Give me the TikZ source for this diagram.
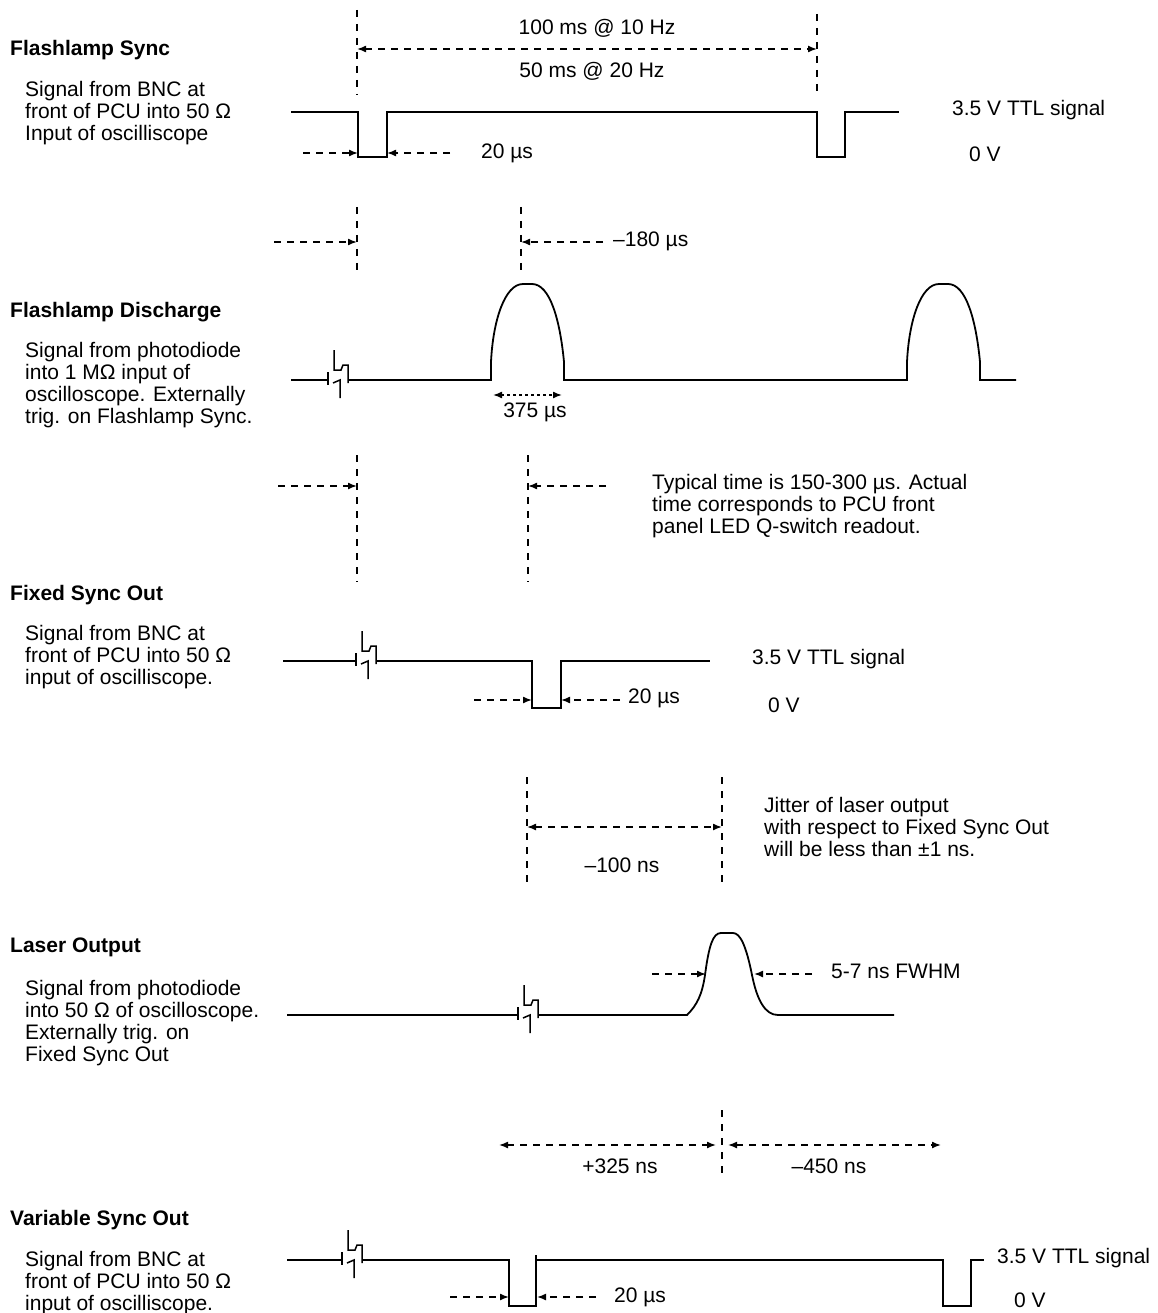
\documentclass[tikz,border=0pt]{standalone}
\usepackage{fontspec}
\setmainfont{Liberation Sans}
\usetikzlibrary{arrows.meta}
\begin{document}
\begin{tikzpicture}[x=1pt,y=-1pt,
  sig/.style={line width=1.8pt},
  guide/.style={line width=1.5pt,dash pattern=on 7pt off 7pt},
  dim/.style={line width=1.5pt,dash pattern=on 7pt off 6pt,-{Latex[length=9pt,width=7pt]}},
  dimboth/.style={dim,{Latex[length=9pt,width=7pt]}-{Latex[length=9pt,width=7pt]}},
  txt/.style={font=\fontsize{21}{22}\selectfont,inner sep=0pt},
  lbl/.style={txt,text height=15pt,text depth=4.5pt},
  ttl/.style={font=\bfseries\fontsize{21}{22}\selectfont,inner sep=0pt,anchor=west,text height=15pt,text depth=4.5pt},
  desc/.style={txt,align=left,anchor=north west},
  brk/.pic={
    \draw[line width=1.5pt] (-10,-8) -- (-10,5);
    \draw[line width=1.5pt] (-4,-30) -- (-4,-10) -- (3,-10) -- (5,-15) -- (10,-15) -- (10,3);
    \draw[line width=1.5pt] (-5,3) -- (2,0) -- (2,18);
  }
]
\useasboundingbox[fill=white] (0,0) rectangle (1157,1313);

% ---------- Flashlamp Sync ----------
\node[ttl] (t1) at (10,50) {Flashlamp Sync};
\node[desc] (d1) at (25,81) {\strut Signal from BNC at\\\strut front of PCU into 50 Ω\\\strut Input of oscilliscope};
\draw[sig] (291,112) -- (358,112) -- (358,157) -- (387,157) -- (387,112) -- (817,112) -- (817,157) -- (845,157) -- (845,112) -- (899,112);
\coordinate (g1a) at (357,10); \coordinate (g1b) at (357,95);
\coordinate (g2a) at (817,14); \coordinate (g2b) at (817,95);
\draw[guide] (g1a) -- (g1b);
\draw[guide] (g2a) -- (g2b);
\draw[dimboth] (357,49) -- (817,49);
\node[lbl] (f10) at (597,29) {100 ms @ 10 Hz};
\node[lbl] (f20) at (592,72) {50 ms @ 20 Hz};
\draw[dim] (303,153) -- (358,153);
\draw[dim] (450,153) -- (387,153);
\node[lbl,anchor=west] (w1) at (481,153) {20 µs};
\node[lbl,anchor=west] (v1h) at (952,110) {3.5 V TTL signal};
\node[lbl,anchor=west] (v1l) at (969,156) {0 V};

% ---------- delay 1 ----------
\draw[guide] (357,207) -- (357,275);
\draw[guide] (521,207) -- (521,275);
\draw[dim] (274,242) -- (357,242);
\draw[dim] (603,242) -- (521,242);
\node[lbl,anchor=west] (d180) at (613,241) {–180 µs};

% ---------- Flashlamp Discharge ----------
\node[ttl] (t2) at (10,312) {Flashlamp Discharge};
\node[desc] (d2) at (25,342) {\strut Signal from photodiode\\\strut into 1 MΩ input of\\\strut oscilloscope. Externally\\\strut trig. on Flashlamp Sync.};
\draw[sig] (291,380) -- (328,380);
\pic (b2) at (338,380) {brk};
\draw[sig] (348,380) -- (491,380) -- (491,362) .. controls (493,320) and (505,284) .. (523,284) -- (532,284) .. controls (550,284) and (560,320) .. (564,362) -- (564,380) -- (907,380) -- (907,362) .. controls (909,320) and (921,284) .. (939,284) -- (948,284) .. controls (966,284) and (976,320) .. (980,362) -- (980,380) -- (1016,380);
\draw[dimboth,dash pattern=on 3pt off 3pt] (493,395) -- (562,395);
\node[lbl] (w375) at (535,412) {375 µs};

% ---------- delay 2 ----------
\draw[guide] (357,455) -- (357,582);
\draw[guide] (528,455) -- (528,582);
\draw[dim] (278,486) -- (357,486);
\draw[dim] (606,486) -- (528,486);
\node[desc] (typ) at (652,474) {\strut Typical time is 150-300 µs. Actual\\\strut time corresponds to PCU front\\\strut panel LED Q-switch readout.};

% ---------- Fixed Sync Out ----------
\node[ttl] (t3) at (10,595) {Fixed Sync Out};
\node[desc] (d3) at (25,625) {\strut Signal from BNC at\\\strut front of PCU into 50 Ω\\\strut input of oscilliscope.};
\draw[sig] (283,661) -- (356,661);
\pic (b3) at (366,661) {brk};
\draw[sig] (376,661) -- (532,661) -- (532,708) -- (561,708) -- (561,661) -- (710,661);
\draw[dim] (474,700) -- (532,700);
\draw[dim] (620,700) -- (561,700);
\node[lbl,anchor=west] (w3) at (628,698) {20 µs};
\node[lbl,anchor=west] (v3h) at (752,659) {3.5 V TTL signal};
\node[lbl,anchor=west] (v3l) at (768,707) {0 V};

% ---------- delay 3 ----------
\draw[guide] (527,777) -- (527,882);
\draw[guide] (722,777) -- (722,882);
\draw[dimboth] (527,827) -- (722,827);
\node[lbl] (d100) at (622,867) {–100 ns};
\node[desc] (jit) at (764,797) {\strut Jitter of laser output\\\strut with respect to Fixed Sync Out\\\strut will be less than ±1 ns.};

% ---------- Laser Output ----------
\node[ttl] (t4) at (10,947) {Laser Output};
\node[desc] (d4) at (25,980) {\strut Signal from photodiode\\\strut into 50 Ω of oscilloscope.\\\strut Externally trig. on\\\strut Fixed Sync Out};
\draw[sig] (287,1015) -- (518,1015);
\pic (b4) at (528,1015) {brk};
\draw[sig] (538,1015) -- (687,1015) .. controls (697,1005) and (702,995) .. (705,975) .. controls (709,945) and (713,933) .. (721,933) -- (733,933) .. controls (740,933) and (746,945) .. (752,975) .. controls (757,1000) and (765,1015) .. (778,1015) -- (894,1015);
\draw[dim] (652,974) -- (706,974);
\draw[dim] (812,974) -- (754,974);
\node[lbl,anchor=west] (fw) at (831,973) {5-7 ns FWHM};

% ---------- delay 4 ----------
\draw[guide] (722,1110) -- (722,1180);
\draw[dimboth] (499,1145) -- (716,1145);
\draw[dimboth] (728,1145) -- (941,1145);
\node[lbl] (p325) at (620,1168) {+325 ns};
\node[lbl] (m450) at (829,1168) {–450 ns};

% ---------- Variable Sync Out ----------
\node[ttl] (t5) at (10,1220) {Variable Sync Out};
\node[desc,font=\fontsize{21}{20}\selectfont] (d5) at (25,1251) {\strut Signal from BNC at\\\strut front of PCU into 50 Ω\\\strut input of oscilliscope.};
\draw[sig] (287,1260) -- (342,1260);
\pic (b5) at (352,1260) {brk};
\draw[sig] (362,1260) -- (509,1260) -- (509,1306) -- (536,1306) -- (536,1255);
\draw[sig] (536,1260) -- (943,1260) -- (943,1306) -- (971,1306) -- (971,1260) -- (984,1260);
\draw[dim] (450,1297) -- (509,1297);
\draw[dim] (596,1297) -- (537,1297);
\node[lbl,anchor=west] (w5) at (614,1297) {20 µs};
\node[lbl,anchor=west] (v5h) at (997,1258) {3.5 V TTL signal};
\node[lbl,anchor=west] (v5l) at (1014,1302) {0 V};
\end{tikzpicture}
\end{document}
